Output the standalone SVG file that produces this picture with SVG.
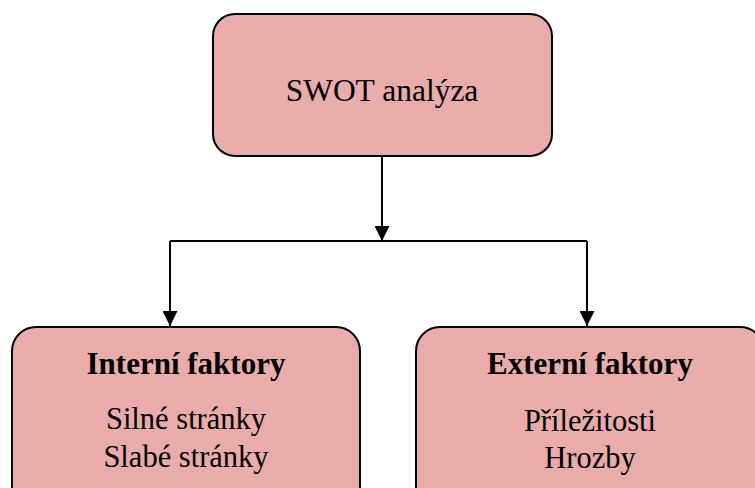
<svg xmlns="http://www.w3.org/2000/svg" width="755" height="488" viewBox="0 0 755 488">
<style>
.box{fill:#EAABAB;stroke:#000;stroke-width:2}
.t{font-family:"Liberation Serif","DejaVu Serif",serif;fill:#000;text-anchor:middle}
.b{font-weight:bold}
.c{fill:none;stroke:#000;stroke-width:2}
</style>
<defs>
<marker id="ah" markerWidth="15" markerHeight="15" refX="15" refY="7.5" orient="auto" markerUnits="userSpaceOnUse">
<path d="M0,0 L15,7.5 L0,15 Z" fill="#000"/>
</marker>
</defs>
<rect width="755" height="488" fill="#fff"/>
<g id="connectors">
<path class="c" d="M382,156 V241" marker-end="url(#ah)"/>
<path class="c" d="M170,241 H587"/>
<path class="c" d="M170,241 V326" marker-end="url(#ah)"/>
<path class="c" d="M587,241 V326" marker-end="url(#ah)"/>
</g>
<g id="swot">
<rect class="box" x="213" y="14" width="339" height="142" rx="22"/>
<text class="t" x="382" y="101" font-size="31.5">SWOT analýza</text>
</g>
<g id="interni">
<rect class="box" x="12" y="327" width="348" height="190" rx="24"/>
<text class="t b" x="186" y="374" font-size="31">Interní faktory</text>
<text class="t" x="186" y="429" font-size="30.5">Silné stránky</text>
<text class="t" x="186" y="467" font-size="30.5">Slabé stránky</text>
</g>
<g id="externi">
<rect class="box" x="416" y="327" width="348" height="190" rx="24"/>
<text class="t b" x="590" y="374" font-size="31">Externí faktory</text>
<text class="t" x="590" y="431" font-size="30.5">Příležitosti</text>
<text class="t" x="590" y="468" font-size="30.5">Hrozby</text>
</g>
</svg>
